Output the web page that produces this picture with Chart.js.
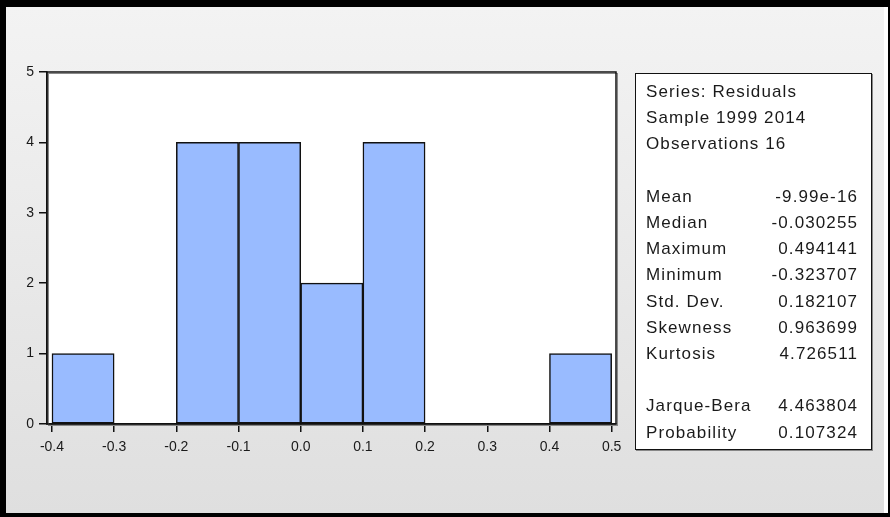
<!DOCTYPE html>
<html>
<head>
<meta charset="utf-8">
<script src="https://cdn.jsdelivr.net/npm/chart.js@4"></script>
<style>
body { margin: 0; background: #fff; }
#wrap { position: relative; width: 890px; height: 517px; overflow: hidden; background: #fff; }
#bg { position: absolute; left: 6px; top: 7px; width: 878px; height: 506px; background: linear-gradient(#f3f3f3, #dfdfdf); }
.bar { position: absolute; background: #000; }
#chartBox { position: absolute; left: 0; top: 0; width: 890px; height: 517px; }
#stats { position: absolute; left: 635px; top: 73px; width: 235px; height: 375px; background: #fff; border: 1.5px solid #111; box-shadow: 1px 1px 0 #888; }
#stats div { position: absolute; left: 10px; font: 17px "Liberation Sans", Arial, sans-serif; letter-spacing: 1.1px; color: #1a1a1a; white-space: pre; }
#stats span { position: absolute; right: 0; }
</style>
</head>
<body>
<div id="wrap">
  <div id="bg"></div>
  <div class="bar" style="left:0;top:0;width:890px;height:7px"></div>
  <div class="bar" style="left:0;top:0;width:6px;height:517px"></div>
  <div class="bar" style="left:888px;top:0;width:2px;height:517px"></div>
  <div class="bar" style="left:0;top:513px;width:890px;height:4px"></div>
  <div id="chartBox"><canvas id="histo" width="890" height="517"></canvas></div>
  <div id="stats"></div>
</div>
<script>
// histogram bins (lower edge) and counts
const binLow = [-0.4, -0.3, -0.2, -0.1, 0.0, 0.1, 0.2, 0.3, 0.4];
const counts = [1, 0, 4, 4, 2, 4, 0, 0, 1];
const xTicks = [-0.4, -0.3, -0.2, -0.1, 0.0, 0.1, 0.2, 0.3, 0.4, 0.5];
const yTicks = [0, 1, 2, 3, 4, 5];

const statLabels = ["Series: Residuals", "Sample 1999 2014", "Observations 16", "",
  "Mean", "Median", "Maximum", "Minimum", "Std. Dev.", "Skewness", "Kurtosis", "",
  "Jarque-Bera", "Probability"];
const statValues = ["", "", "", "",
  "-9.99e-16", "-0.030255", "0.494141", "-0.323707", "0.182107", "0.963699", "4.726511", "",
  "4.463804", "0.107324"];

// stats box
const stats = document.getElementById("stats");
statLabels.forEach((lab, i) => {
  const d = document.createElement("div");
  d.style.top = (8 + i * 26.2) + "px";
  d.style.width = "212px";
  d.textContent = lab;
  if (statValues[i]) {
    const s = document.createElement("span");
    s.textContent = statValues[i];
    d.appendChild(s);
  }
  stats.appendChild(d);
});

const frame = {
  id: "frame",
  beforeDraw(chart) {
    const { ctx, chartArea: a } = chart;
    ctx.save();
    ctx.fillStyle = "#fff";
    ctx.fillRect(a.left, a.top, a.right - a.left, a.bottom - a.top);
    ctx.restore();
  },
  afterDraw(chart) {
    const { ctx, chartArea: a } = chart;
    ctx.save();
    ctx.strokeStyle = "#888";
    ctx.lineWidth = 1;
    ctx.strokeRect(a.left + 1.5, a.top + 1.5, a.right - a.left, a.bottom - a.top);
    ctx.strokeStyle = "#111";
    ctx.lineWidth = 1.5;
    ctx.strokeRect(a.left, a.top, a.right - a.left, a.bottom - a.top);
    ctx.restore();
  }
};

const ctx = document.getElementById("histo").getContext("2d");

const data = {
  datasets: [{
    data: binLow.map((v, i) => ({ x: v + 0.05, y: counts[i] > 0 ? counts[i] : null })),
    backgroundColor: "#99bbff",
    borderColor: "#111",
    borderWidth: 1.5,
    borderSkipped: false,
    barPercentage: 1,
    categoryPercentage: 1
  }]
};

const config = {
  type: "bar",
  data: data,
  options: {
    responsive: false,
    animation: false,
    events: [],
    layout: { padding: { left: 0, top: 72, right: 274, bottom: 0 } },
    plugins: { legend: { display: false }, tooltip: { enabled: false } },
    scales: {
      x: {
        type: "linear",
        offset: false,
        min: -0.408,
        max: 0.507,
        afterBuildTicks: s => { s.ticks = xTicks.map(v => ({ value: v })); },
        afterFit: s => { s.height = 93; },
        grid: { display: true, drawOnChartArea: false, drawTicks: true, tickLength: 8, color: "#111", lineWidth: 1.5, offset: false },
        border: { display: true, color: "#111", width: 1.5 },
        ticks: {
          padding: 7,
          color: "#1a1a1a",
          font: { family: "Liberation Sans", size: 14 },
          callback: v => v.toFixed(1),
          maxRotation: 0,
          autoSkip: false
        }
      },
      y: {
        min: 0,
        max: 5,
        afterBuildTicks: s => { s.ticks = yTicks.map(v => ({ value: v })); },
        afterFit: s => { s.width = 47; },
        grid: { display: true, drawOnChartArea: false, drawTicks: true, tickLength: 8, color: "#111", lineWidth: 1.5 },
        border: { display: true, color: "#111", width: 1.5 },
        ticks: {
          padding: 5,
          color: "#1a1a1a",
          font: { family: "Liberation Sans", size: 14 }
        }
      }
    }
  },
  plugins: [frame]
};

const myChart = new Chart(ctx, config);
</script>
</body>
</html>
